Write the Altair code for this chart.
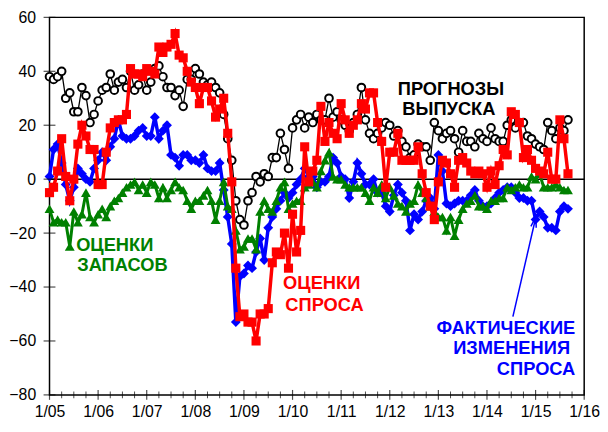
import altair as alt
import pandas as pd

# monthly values, Jan 2005 .. Sep 2015
vypusk = [38,37,38,40,30,32,25,25,34,31,21,24,
          29,33,34,39,33,36,37,34,40,33,35,39,
          33,36,41,42,38,34,34,31,33,27,37,37,
          41,39,36,35,36,34,32,24,15,7,-8,-15,
          -17,-8,-5,1,-1,2,1,8,8,17,11,4,
          19,22,24,19,23,21,24,22,22,30,23,25,
          22,20,18,21,24,34,22,17,15,17,19,21,
          20,16,18,14,12,8,9,13,12,12,7,21,
          18,15,17,18,15,10,18,14,14,12,17,15,
          14,19,15,14,14,20,22,19,21,21,16,15,
          13,12,11,21,18,15,19,18,22]
spros = [-5,-3,3,15,1,-8,0,13,20,16,11,11,
         -2,-2,10,19,21,22,22,24,41,39,39,38,
         41,40,39,49,47,49,50,54,46,45,40,36,
         34,28,34,34,29,23,26,30,17,-1,-33,-51,
         -50,-53,-53,-60,-50,-50,-48,-31,-27,-28,-20,-33,
         -13,-27,-19,12,-1,3,7,27,14,21,17,15,
         28,22,17,20,22,28,26,32,32,21,14,-3,
         10,10,17,7,7,7,7,12,2,-5,-10,-15,
         -1,7,6,2,-3,7,8,6,3,2,3,2,
         -3,3,-2,5,11,9,25,24,21,8,11,7,
         4,3,2,10,0,0,22,15,2]
fakt = [1,11,13,6,-2,-8,-3,4,2,0,-1,4,
        7,10,7,12,15,22,16,15,15,16,18,19,
        16,16,23,15,18,20,9,8,5,9,9,7,
        7,6,9,4,3,3,6,-4,-14,-24,-53,-36,
        -35,-32,-33,-27,-22,-30,-18,-14,-11,-8,-5,-7,
        -5,-2,0,4,1,1,-3,-1,-1,1,8,6,
        1,0,-7,-1,6,2,-2,-2,0,-5,-5,-10,
        -12,-6,-2,-5,-8,-19,-13,-15,-12,-8,-7,-11,
        9,3,-9,-10,-9,-8,-8,-8,-6,-4,-8,-10,
        -10,-9,-7,-5,-4,-3,-3,-5,-7,-7,-8,-8,
        -15,-12,-14,-18,-18,-19,-12,-10,-11]
zapasy = [-11,-16,-15,-16,-16,-25,-12,-16,-13,-5,-14,-16,
          -13,-11,-14,-10,-8,-7,-5,-3,-2,-1,-4,-2,
          -5,-1,-2,-7,-3,-7,-4,-1,-3,-4,-8,-11,
          -8,-8,-6,-4,-8,-15,-8,-1,-10,-11,-19,-26,
          -25,-22,-22,-26,-12,-8,-11,-12,-8,-3,-1,-11,
          -9,-8,-8,-3,-2,-1,-3,3,7,10,1,0,
          0,-2,-3,-3,-3,-3,-5,-8,-3,-5,-2,-7,
          -3,-6,-9,-10,-12,-9,-8,-2,-5,-7,-10,-12,
          -14,-14,-19,-14,-21,-15,-11,-9,-8,-6,-10,-10,
          -11,-8,-8,-7,-7,-3,-4,-3,-2,-3,-3,1,
          0,2,-3,-3,-3,-2,-3,-4,-4]

year_ticks = list(range(0, 133, 12))
quarter_ticks = [m for m in range(0, 133, 3) if m % 12]
y_ticks = list(range(-80, 61, 20))

FONT = "Liberation Sans"
xs = alt.Scale(domain=[0, 132], nice=False, zero=False)
ys = alt.Scale(domain=[-80, 60], nice=False)
xaxis = alt.Axis(values=year_ticks, title=None, grid=False, domain=False, ticks=False,
                 labelExpr="'1/' + (datum.value/12 + 5 < 10 ? '0' : '') + (datum.value/12 + 5)",
                 labelFontSize=16, labelFont=FONT, labelColor="black", labelPadding=9,
                 labelFlush=False, labelOverlap=False)
yaxis = alt.Axis(values=y_ticks, title=None, grid=False, domain=False, ticks=False,
                 labelFontSize=16, labelFont=FONT, labelColor="black", labelPadding=14)

def X(field="m"):
    return alt.X(f"{field}:Q", scale=xs, axis=xaxis)

def Y(field="v"):
    return alt.Y(f"{field}:Q", scale=ys, axis=yaxis)

def series(vals, color, shape, size, lw, fill=None):
    df = pd.DataFrame({"m": list(range(len(vals))), "v": vals})
    base = alt.Chart(df).encode(x=X(), y=Y())
    line = base.mark_line(color=color, strokeWidth=lw)
    if fill:
        pts = base.mark_point(shape=shape, size=size, filled=True, fill=fill,
                              stroke=color, strokeWidth=2, opacity=1)
    else:
        pts = base.mark_point(shape=shape, size=size, filled=True, color=color, opacity=1)
    return [line, pts]

zero = alt.Chart(pd.DataFrame({"v": [0]})).mark_rule(color="black", strokeWidth=1.5).encode(y=Y())

xt1 = alt.Chart(pd.DataFrame({"m": year_ticks})).mark_tick(
    orient="vertical", size=10, thickness=1.2, color="black").encode(x=X(), y=alt.datum(-80))
xt2 = alt.Chart(pd.DataFrame({"m": quarter_ticks})).mark_tick(
    orient="vertical", size=7, thickness=1, color="black").encode(x=X(), y=alt.datum(-80))
yt = alt.Chart(pd.DataFrame({"v": y_ticks})).mark_tick(
    orient="horizontal", size=12, thickness=1.2, color="black").encode(y=Y(), x=alt.datum(0))

labels_c = pd.DataFrame({
    "t": ["ПРОГНОЗЫ", "ВЫПУСКА", "ОЦЕНКИ", "ЗАПАСОВ", "ОЦЕНКИ", "СПРОСА"],
    "m": [99.1, 98.6, 16.1, 18.0, 67.2, 67.9],
    "v": [33.3, 26.0, -24.6, -31.9, -38.5, -46.6],
    "c": ["black", "black", "#008000", "#008000", "#ff0000", "#ff0000"],
})
labels_r = pd.DataFrame({
    "t": ["ФАКТИЧЕСКИЕ", "ИЗМЕНЕНИЯ", "СПРОСА"],
    "m": [129.8, 128.5, 129.8],
    "v": [-55.4, -62.7, -70.4],
    "c": ["#0000ff", "#0000ff", "#0000ff"],
})
txt_c = alt.Chart(labels_c).mark_text(font=FONT, fontSize=18.5, fontWeight="bold", align="center",
                                      baseline="middle").encode(
    x=X(), y=Y(), text="t:N", color=alt.Color("c:N", scale=None))
txt_r = alt.Chart(labels_r).mark_text(font=FONT, fontSize=18.5, fontWeight="bold", align="right",
                                      baseline="middle").encode(
    x=X(), y=Y(), text="t:N", color=alt.Color("c:N", scale=None))

arrow_df = pd.DataFrame({"m": [114.4], "v": [-51.0], "m2": [119.8], "v2": [-15.8]})
arrow = alt.Chart(arrow_df).mark_rule(color="#0000ff", strokeWidth=1.5).encode(
    x=X(), y=Y(), x2="m2:Q", y2="v2:Q")
head = alt.Chart(arrow_df).mark_point(
    shape="M -0.5 1 L 0 -1 L 0.5 1", filled=False, stroke="#0000ff", strokeWidth=1.5,
    size=120, angle=13, opacity=1).encode(x=X("m2"), y=Y("v2"))

layers = [zero]
layers += series(fakt, "#0000ff", "diamond", 100, 3.5)
layers += series(zapasy, "#008000", "triangle-up", 100, 3)
layers += series(vypusk, "black", "circle", 60, 1.3, fill="white")
layers += series(spros, "#ff0000", "square", 85, 3.5)
layers += [xt1, xt2, yt, txt_c, txt_r, arrow, head]

chart = alt.layer(*layers).properties(
    width=541, height=382,
    autosize=alt.AutoSizeParams(type="none"),
    padding={"left": 42, "top": 7, "right": 16, "bottom": 30},
    background="white",
).configure_view(stroke="black", strokeWidth=1.5)

chart.save("out.html", embed_options={"renderer": "svg", "actions": False})
